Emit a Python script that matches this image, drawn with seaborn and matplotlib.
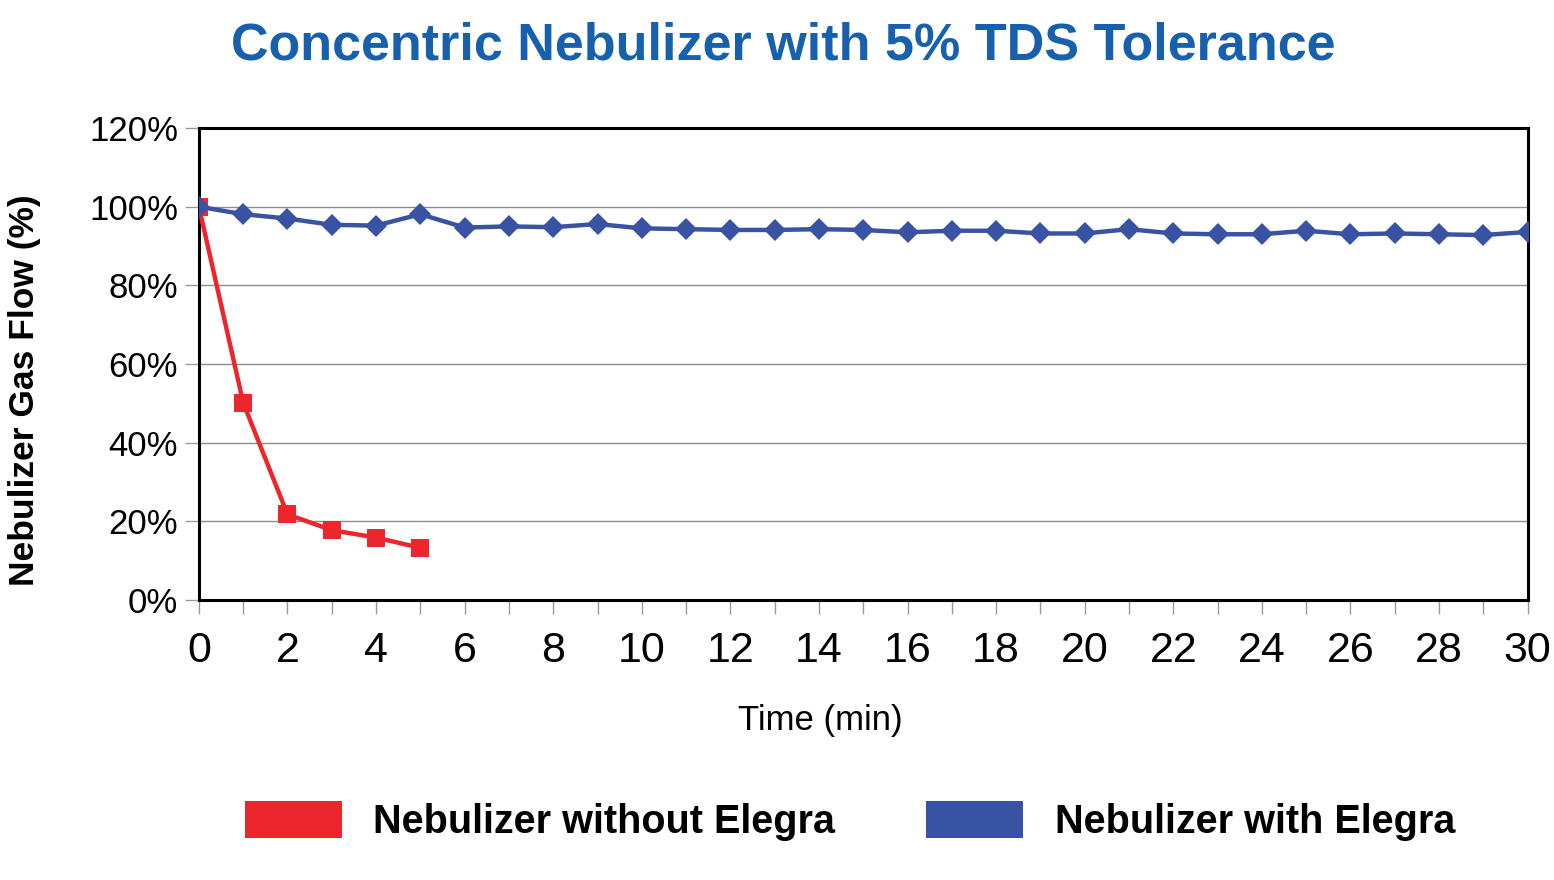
import numpy as np
import pandas as pd
import matplotlib
matplotlib.use("Agg")
import matplotlib.pyplot as plt
import seaborn as sns
from matplotlib.patches import Patch
from matplotlib.ticker import MultipleLocator, FuncFormatter

# data
time_with = list(range(0, 31))
flow_with = [100.0, 98.1, 97.0, 95.4, 95.2, 98.1, 94.7, 95.0, 94.8, 95.6,
             94.5, 94.3, 94.1, 94.1, 94.3, 94.1, 93.5, 93.9, 93.9, 93.2,
             93.2, 94.3, 93.2, 93.0, 93.0, 93.9, 93.0, 93.2, 93.0, 92.8, 93.6]
time_without = [0, 1, 2, 3, 4, 5]
flow_without = [100.0, 50.2, 21.8, 17.8, 15.9, 13.3]

label_without = "Nebulizer without Elegra"
label_with = "Nebulizer with Elegra"
red = "#ec262c"
blue = "#3953a4"
title_blue = "#1660ad"

sns.set_theme(style="white")
plt.rcParams['font.family'] = ['Liberation Sans', 'DejaVu Sans']
plt.rcParams['text.color'] = 'black'
plt.rcParams['axes.labelcolor'] = 'black'
plt.rcParams['xtick.labelcolor'] = 'black'
plt.rcParams['ytick.labelcolor'] = 'black'

df_without = pd.DataFrame({"time": time_without, "flow": flow_without})
df_with = pd.DataFrame({"time": time_with, "flow": flow_with})

fig = plt.figure(figsize=(15.54, 8.8), dpi=100)
ax = fig.add_axes([0.128, 0.318, 0.855, 0.5365])

sns.lineplot(data=df_without, x="time", y="flow", ax=ax, color=red,
             marker="s", markersize=13, markeredgewidth=0, linewidth=3.2, zorder=3)
sns.lineplot(data=df_with, x="time", y="flow", ax=ax, color=blue,
             marker="D", markersize=11.5, markeredgewidth=0, linewidth=3.2, zorder=4)

ax.set_xlim(0, 30)
ax.set_ylim(0, 120)
ax.xaxis.set_major_locator(MultipleLocator(2))
ax.xaxis.set_minor_locator(MultipleLocator(1))
ax.yaxis.set_major_locator(MultipleLocator(20))
ax.yaxis.set_major_formatter(FuncFormatter(lambda v, p: f"{v:.0f}%"))

ax.grid(axis="y", color="#8c8c8c", linewidth=1.0)
ax.set_axisbelow(True)
for s in ax.spines.values():
    s.set_color("black")
    s.set_linewidth(2.2)

ax.tick_params(axis="x", which="both", direction="out", length=10, width=1,
               color="#999999", labelsize=31, pad=12, bottom=True)
ax.tick_params(axis="y", direction="out", length=10, width=1, color="#999999",
               labelsize=25, pad=5, left=True)

ax.set_xlabel("Time (min)", fontsize=25)
ax.xaxis.set_label_coords(0.468, -0.22)
ax.set_ylabel("Nebulizer Gas Flow (%)", fontsize=25.5, fontweight="bold")
ax.yaxis.set_label_coords(-0.119, 0.445)

fig.text(0.504, 0.948, "Concentric Nebulizer with 5% TDS Tolerance",
         ha="center", va="center", fontsize=37.5, fontweight="bold", color=title_blue)

handles = [Patch(facecolor=red, edgecolor="none", label=label_without),
           Patch(facecolor=blue, edgecolor="none", label=label_with)]
fig.legend(handles=handles, loc="center", bbox_to_anchor=(0.547, 0.067), ncol=2,
           frameon=False, prop={"size": 28.5, "weight": "bold"},
           handlelength=2.45, handleheight=1.05, handletextpad=0.8,
           columnspacing=2.3)

fig.savefig("out.png", dpi=100)
